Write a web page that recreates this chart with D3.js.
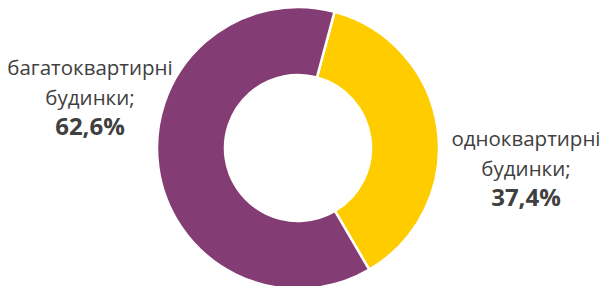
<!DOCTYPE html>
<html>
<head>
<meta charset="utf-8">
<script src="https://cdn.jsdelivr.net/npm/d3@7"></script>
<style>
  body { margin: 0; background: #fff; }
  svg text { font-family: "Open Sans", "Noto Sans", sans-serif; fill: #404040; }
</style>
</head>
<body>
<svg id="chart" width="606" height="286"></svg>
<script>
var categories = ["одноквартирні будинки;", "багатоквартирні будинки;"];
var values = [37.4, 62.6];
var colors = ["#FFCC00", "#843C74"];

function createChart() {
    var svg = d3.select("#chart");
    var cx = 298, cy = 148;
    var outer = 141, inner = 73;
    var start = 15 * Math.PI / 180;

    var pie = d3.pie()
        .sort(null)
        .startAngle(start)
        .endAngle(start + 2 * Math.PI);

    var arc = d3.arc()
        .innerRadius(inner)
        .outerRadius(outer);

    var g = svg.append("g")
        .attr("transform", "translate(" + cx + "," + cy + ")");

    g.selectAll("path")
        .data(pie(values))
        .enter()
        .append("path")
        .attr("d", arc)
        .attr("fill", function (d, i) { return colors[i]; })
        .attr("stroke", "#fff")
        .attr("stroke-width", 2.5);

    // label positions (center x, first baseline)
    var labelPos = [
        { x: 526, y: 146 },
        { x: 90, y: 75 }
    ];

    categories.forEach(function (c, i) {
        var words = c.split(" ");
        var t = svg.append("text")
            .attr("text-anchor", "middle")
            .attr("font-size", 20.5);
        words.forEach(function (w, j) {
            t.append("tspan")
                .attr("x", labelPos[i].x)
                .attr("y", labelPos[i].y + j * 30)
                .text(w);
        });
        t.append("tspan")
            .attr("x", labelPos[i].x)
            .attr("y", labelPos[i].y + words.length * 30)
            .attr("font-weight", "bold")
            .attr("font-size", 24)
            .text(values[i].toFixed(1).replace(".", ",") + "%");
    });
}

createChart();
</script>
</body>
</html>
